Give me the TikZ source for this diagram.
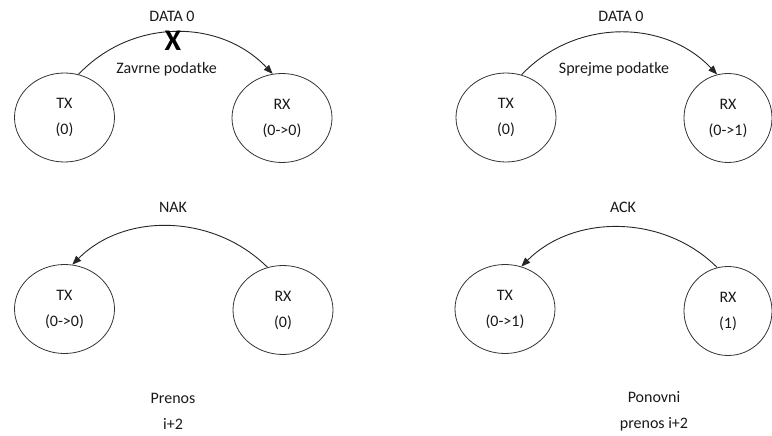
\documentclass[tikz,border=0pt]{standalone}
\usepackage{fontspec}
\setmainfont{Carlito}
\usetikzlibrary{shapes.geometric,arrows.meta}
\begin{document}
\begin{tikzpicture}[x=1pt,y=-1pt,
  every node/.style={font=\fontsize{16pt}{26pt}\selectfont, text=black!90},
  station/.style={ellipse, draw=black!80, line width=0.8pt, minimum width=100pt,
    minimum height=89pt, inner sep=0pt, align=center},
  msg/.style={anchor=base, inner sep=0pt},
  link/.style={draw=black!85, line width=0.9pt, -{Triangle[length=9pt,width=7pt]}}]
\useasboundingbox (0,0) rectangle (772,436);

% Frame 1: data frame is lost on the way
\node[station] (tx1) at (64.5,117.5) {TX\\(0)};
\node[station] (rx1) at (282,118) {RX\\(0->0)};
\node[msg] (d1) at (172,22) {DATA 0};
\node[msg] (z1) at (166.5,74) {Zavrne podatke};
\draw[link] (tx1.72) .. controls +(53,-56) and +(-53,-56) .. (rx1.102);
\node[inner sep=0pt, font=\fontsize{30pt}{30pt}\selectfont\bfseries, text=black] (x1) at (173,41) {X};

% Frame 2: data frame is received
\node[station] (tx2) at (506,117.5) {TX\\(0)};
\node[station, minimum width=88pt] (rx2) at (728,118) {RX\\(0->1)};
\node[msg] (d2) at (621,22) {DATA 0};
\node[msg] (s2) at (614,74) {Sprejme podatke};
\draw[link] (tx2.70) .. controls +(53,-56) and +(-53,-56) .. (rx2.104);

% Frame 3: negative acknowledgement
\node[station] (tx3) at (64.5,309) {TX\\(0->0)};
\node[station] (rx3) at (283,310) {RX\\(0)};
\node[msg] (n3) at (173,212) {NAK};
\draw[link] (rx3.110) .. controls +(-53,-53) and +(53,-53) .. (tx3.80);
\node[align=center, inner sep=0pt] (p3) at (173,411) {Prenos\\i+2};

% Frame 4: acknowledgement
\node[station] (tx4) at (505,309) {TX\\(0->1)};
\node[station, minimum width=88pt] (rx4) at (728,311) {RX\\(1)};
\node[msg] (a4) at (623,212) {ACK};
\draw[link] (rx4.104) .. controls +(-53,-53) and +(53,-53) .. (tx4.69);
\node[align=center, inner sep=0pt] (p4) at (654,411) {Ponovni\\prenos i+2};
\end{tikzpicture}
\end{document}
